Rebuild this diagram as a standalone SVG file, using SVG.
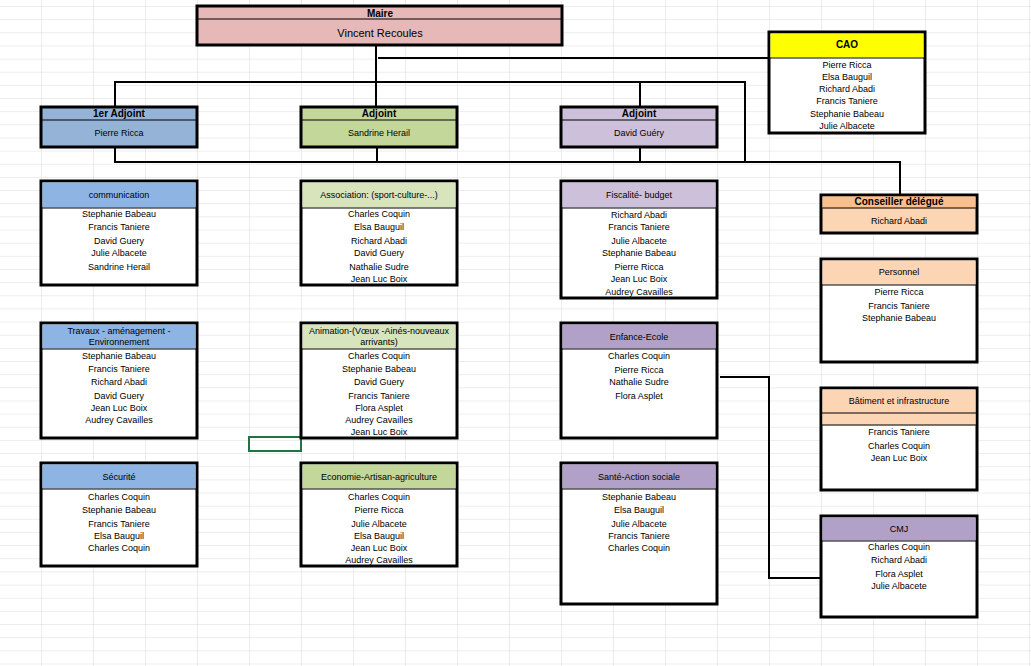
<svg xmlns="http://www.w3.org/2000/svg" width="1031" height="666" viewBox="0 0 1031 666">
<defs>
<pattern id="grid" x="41" y="6" width="52" height="13.15" patternUnits="userSpaceOnUse">
<path d="M0 0V13.15M0 0H52" fill="none" stroke="#d9d9d9" stroke-width="1"/>
</pattern>
</defs>
<style>
.b{fill:#fff;stroke:#000;stroke-width:3}
.h{stroke:#000;stroke-width:1.2}
text{font-family:"Liberation Sans",Arial,sans-serif;font-size:9px;text-anchor:middle;fill:#000}
.t{font-weight:bold;font-size:10px}
.c{fill:none;stroke:#000;stroke-width:2}
</style>
<rect width="1031" height="666" fill="#fff"/>
<rect width="1031" height="666" fill="url(#grid)"/>
<rect x="249" y="437" width="52" height="14" fill="none" stroke="#217346" stroke-width="2"/>
<g id="connectors">
<path class="c" d="M376 45V107M115 107V82H745V162M640 82V107M378 58H769"/>
<path class="c" d="M115 147V162H900V195M377 147V162M640 147V162"/>
<path class="c" d="M720 377H769V578H820"/>
</g>
<g id="maire"><rect class="b" x="197" y="6" width="365" height="39" fill="#E6B8B7" style="fill:#E6B8B7"/><line class="h" x1="197" y1="19" x2="562" y2="19"/><text x="380" y="17" class="t">Maire</text><text x="380" y="37" style="font-size:11px">Vincent Recoules</text></g>
<g id="cao"><rect class="b" x="769" y="32" width="156" height="101"/><rect x="770.5" y="33.5" width="153" height="24" fill="#FFFF00"/><line class="h" x1="769" y1="58" x2="925" y2="58"/><text x="847" y="48" class="t">CAO</text>
<text x="847" y="68">Pierre Ricca</text><text x="847" y="80">Elsa Bauguil</text><text x="847" y="92">Richard Abadi</text><text x="847" y="104">Francis Taniere</text><text x="847" y="117">Stephanie Babeau</text><text x="847" y="129">Julie Albacete</text></g>
<g id="adj1"><rect class="b" x="41" y="107" width="156" height="40" style="fill:#95B3D7"/><line class="h" x1="41" y1="120" x2="197" y2="120"/><text x="119" y="117" class="t">1er  Adjoint</text><text x="119" y="136">Pierre Ricca</text></g>
<g id="adj2"><rect class="b" x="301" y="107" width="156" height="40" style="fill:#C4D79B"/><line class="h" x1="301" y1="120" x2="457" y2="120"/><text x="379" y="117" class="t">Adjoint</text><text x="379" y="136">Sandrine Herail</text></g>
<g id="adj3"><rect class="b" x="561" y="107" width="156" height="40" style="fill:#CCC0DA"/><line class="h" x1="561" y1="120" x2="717" y2="120"/><text x="639" y="117" class="t">Adjoint</text><text x="639" y="136">David Guéry</text></g>
<g id="conseiller"><rect class="b" x="821" y="195" width="156" height="38" style="fill:#FCD5B4"/><rect x="822.5" y="196.5" width="153" height="12" fill="#FABF8F"/><line class="h" x1="821" y1="208" x2="977" y2="208"/><text x="899" y="205" class="t">Conseiller délégué</text><text x="899" y="224">Richard Abadi</text></g>

<g id="communication"><rect class="b" x="41" y="181" width="156" height="104"/><rect x="42.5" y="182.5" width="153" height="25" fill="#8DB4E2"/><line class="h" x1="41" y1="208" x2="197" y2="208"/><text x="119" y="198">communication</text>
<text x="119" y="217">Stephanie Babeau</text><text x="119" y="230">Francis Taniere</text><text x="119" y="244">David Guery</text><text x="119" y="256">Julie Albacete</text><text x="119" y="270">Sandrine Herail</text></g>
<g id="travaux"><rect class="b" x="41" y="323" width="156" height="115"/><rect x="42.5" y="324.5" width="153" height="24" fill="#8DB4E2"/><line class="h" x1="41" y1="349" x2="197" y2="349"/><text x="119" y="334">Travaux - aménagement -</text><text x="119" y="345">Environnement</text>
<text x="119" y="359">Stephanie Babeau</text><text x="119" y="372">Francis Taniere</text><text x="119" y="385">Richard Abadi</text><text x="119" y="399">David Guery</text><text x="119" y="411">Jean Luc Boix</text><text x="119" y="423">Audrey Cavailles</text></g>
<g id="securite"><rect class="b" x="41" y="463" width="156" height="103"/><rect x="42.5" y="464.5" width="153" height="24" fill="#8DB4E2"/><line class="h" x1="41" y1="489" x2="197" y2="489"/><text x="119" y="480">Sécurité</text>
<text x="119" y="500">Charles Coquin</text><text x="119" y="513">Stephanie Babeau</text><text x="119" y="527">Francis Taniere</text><text x="119" y="539">Elsa Bauguil</text><text x="119" y="551">Charles Coquin</text></g>

<g id="association"><rect class="b" x="301" y="181" width="156" height="104"/><rect x="302.5" y="182.5" width="153" height="25" fill="#D8E4BC"/><line class="h" x1="301" y1="208" x2="457" y2="208"/><text x="379" y="198">Association: (sport-culture-...)</text>
<text x="379" y="217">Charles Coquin</text><text x="379" y="230">Elsa Bauguil</text><text x="379" y="244">Richard Abadi</text><text x="379" y="256">David Guery</text><text x="379" y="270">Nathalie Sudre</text><text x="379" y="282">Jean Luc Boix</text></g>
<g id="animation"><rect class="b" x="301" y="323" width="156" height="115"/><rect x="302.5" y="324.5" width="153" height="24" fill="#D8E4BC"/><line class="h" x1="301" y1="349" x2="457" y2="349"/><text x="379" y="334">Animation-(Vœux -Ainés-nouveaux</text><text x="379" y="345">arrivants)</text>
<text x="379" y="359">Charles Coquin</text><text x="379" y="372">Stephanie Babeau</text><text x="379" y="385">David Guery</text><text x="379" y="399">Francis Taniere</text><text x="379" y="411">Flora Asplet</text><text x="379" y="423">Audrey Cavailles</text><text x="379" y="435">Jean Luc Boix</text></g>
<g id="economie"><rect class="b" x="301" y="463" width="156" height="103"/><rect x="302.5" y="464.5" width="153" height="24" fill="#C4D79B"/><line class="h" x1="301" y1="489" x2="457" y2="489"/><text x="379" y="480">Economie-Artisan-agriculture</text>
<text x="379" y="500">Charles Coquin</text><text x="379" y="513">Pierre Ricca</text><text x="379" y="527">Julie Albacete</text><text x="379" y="539">Elsa Bauguil</text><text x="379" y="551">Jean Luc Boix</text><text x="379" y="563">Audrey Cavailles</text></g>

<g id="fiscalite"><rect class="b" x="561" y="181" width="156" height="117"/><rect x="562.5" y="182.5" width="153" height="25" fill="#CCC0DA"/><line class="h" x1="561" y1="208" x2="717" y2="208"/><text x="639" y="198">Fiscalité- budget</text>
<text x="639" y="218">Richard Abadi</text><text x="639" y="230">Francis Taniere</text><text x="639" y="244">Julie Albacete</text><text x="639" y="256">Stephanie Babeau</text><text x="639" y="270">Pierre Ricca</text><text x="639" y="282">Jean Luc Boix</text><text x="639" y="295">Audrey Cavailles</text></g>
<g id="enfance"><rect class="b" x="561" y="323" width="156" height="115"/><rect x="562.5" y="324.5" width="153" height="24" fill="#B1A0C7"/><line class="h" x1="561" y1="349" x2="717" y2="349"/><text x="639" y="340">Enfance-Ecole</text>
<text x="639" y="359">Charles Coquin</text><text x="639" y="373">Pierre Ricca</text><text x="639" y="385">Nathalie Sudre</text><text x="639" y="399">Flora Asplet</text></g>
<g id="sante"><rect class="b" x="561" y="463" width="156" height="141"/><rect x="562.5" y="464.5" width="153" height="24" fill="#B1A0C7"/><line class="h" x1="561" y1="489" x2="717" y2="489"/><text x="639" y="480">Santé-Action sociale</text>
<text x="639" y="500">Stephanie Babeau</text><text x="639" y="513">Elsa Bauguil</text><text x="639" y="527">Julie Albacete</text><text x="639" y="539">Francis Taniere</text><text x="639" y="551">Charles Coquin</text></g>

<g id="personnel"><rect class="b" x="821" y="259" width="156" height="103"/><rect x="822.5" y="260.5" width="153" height="24" fill="#FCD5B4"/><line class="h" x1="821" y1="285" x2="977" y2="285"/><text x="899" y="275">Personnel</text>
<text x="899" y="295">Pierre Ricca</text><text x="899" y="309">Francis Taniere</text><text x="899" y="321">Stephanie Babeau</text></g>
<g id="batiment"><rect class="b" x="821" y="388" width="156" height="102"/><rect x="822.5" y="389.5" width="153" height="36" fill="#FCD5B4"/><line class="h" x1="821" y1="413" x2="977" y2="413"/><line class="h" x1="821" y1="425" x2="977" y2="425"/><text x="899" y="404">Bâtiment et infrastructure</text>
<text x="899" y="435">Francis Taniere</text><text x="899" y="449">Charles Coquin</text><text x="899" y="461">Jean Luc Boix</text></g>
<g id="cmj"><rect class="b" x="821" y="516" width="156" height="101"/><rect x="822.5" y="517.5" width="153" height="23" fill="#B1A0C7"/><line class="h" x1="821" y1="541" x2="977" y2="541"/><text x="899" y="532">CMJ</text>
<text x="899" y="550">Charles Coquin</text><text x="899" y="563">Richard Abadi</text><text x="899" y="577">Flora Asplet</text><text x="899" y="589">Julie Albacete</text></g>
</svg>
